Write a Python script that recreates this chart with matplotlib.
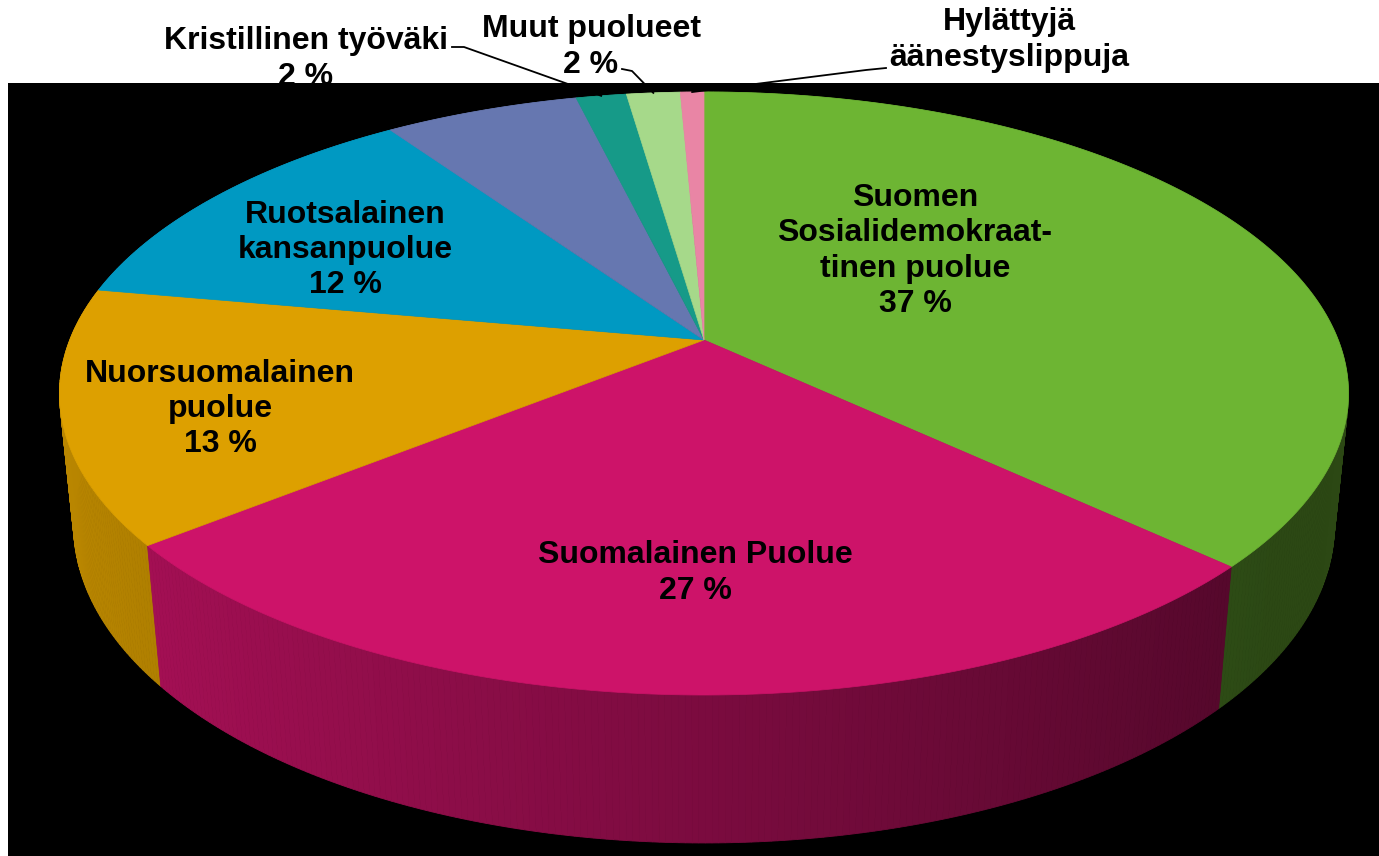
import numpy as np
import matplotlib
matplotlib.use("Agg")
from matplotlib import pyplot as plt
from matplotlib.patches import Polygon, Rectangle
from matplotlib.colors import to_rgb

# 1907 vote shares, clockwise from 12 o'clock
parties = ["Suomen\nSosialidemokraat-\ntinen puolue", "Suomalainen Puolue",
           "Nuorsuomalainen\npuolue", "Ruotsalainen\nkansanpuolue", "Maalaisliitto",
           "Kristillinen työväki", "Muut puolueet", "Hylättyjä\näänestyslippuja"]
shares = [37.0, 27.3, 13.6, 12.6, 5.8, 1.5, 1.6, 0.7]
pct_labels = ["37 %", "27 %", "13 %", "12 %", None, "2 %", "2 %", None]
colors = ["#6db533", "#cd1369", "#dda000", "#0099c2", "#6677b0", "#169a88",
          "#a6d98a", "#e985a5"]

# label centres (pixels) and leader line elbows
label_pos = [(915, 251), (695, 573), (220, 409), (345, 250), None,
             (306, 59), (591, 47), (1009, 40)]
leader_pts = {5: [(452, 47), (464, 47)], 6: [(622, 69), (632, 71)],
              7: [(886, 68), (866, 70)]}

# simple perspective camera
CX, CY = 704, 340
F, D = 3174.0, 5.004
phi = np.arcsin(0.4604)
H = 0.2355


def proj(x, y, z):
    depth = D + y * np.cos(phi) - z * np.sin(phi)
    sx = F * x / depth
    su = F * (y * np.sin(phi) + z * np.cos(phi)) / depth
    return CX + sx, CY - su


fig = plt.figure(figsize=(13.79, 8.56), dpi=100)
ax = fig.add_axes([0, 0, 1, 1])
ax.set_xlim(0, 1379)
ax.set_ylim(856, 0)
ax.axis("off")

ax.add_patch(Rectangle((8, 83), 1379 - 8, 856 - 83, facecolor="black",
                       edgecolor="none", zorder=1))

fracs = np.array(shares) / sum(shares)
edges = np.concatenate([[0], np.cumsum(fracs)]) * 2 * np.pi

# side walls
segs = []
for i in range(len(shares)):
    t = np.linspace(edges[i], edges[i + 1], max(3, int(np.degrees(edges[i + 1] - edges[i]) * 2)))
    for a, b in zip(t[:-1], t[1:]):
        m = 0.5 * (a + b)
        segs.append((np.cos(m), i, a, b, m))
segs.sort(key=lambda s: -s[0])
for _, i, a, b, m in segs:
    p1 = proj(np.sin(a), np.cos(a), 0)
    p2 = proj(np.sin(b), np.cos(b), 0)
    p3 = proj(np.sin(b), np.cos(b), -H)
    p4 = proj(np.sin(a), np.cos(a), -H)
    f = max(0.4, 0.6 - 0.25 * np.sin(m))
    c = tuple(min(1, v * f) for v in to_rgb(colors[i]))
    ax.add_patch(Polygon([p1, p2, p3, p4], closed=True, facecolor=c,
                         edgecolor=c, lw=0.6, zorder=2))

# top faces
for i in range(len(shares)):
    t = np.linspace(edges[i], edges[i + 1], 200)
    xs, ys = proj(np.sin(t), np.cos(t), 0)
    pts = [(CX, CY)] + list(zip(xs, ys))
    ax.add_patch(Polygon(pts, closed=True, facecolor=colors[i],
                         edgecolor=colors[i], lw=0.5, zorder=3))

# labels
font = dict(family="Liberation Sans", fontweight="bold", fontsize=23,
            color="black", ha="center", va="center", linespacing=1.22)
for i, pos in enumerate(label_pos):
    if pos is None:
        continue
    txt = parties[i] if pct_labels[i] is None else parties[i] + "\n" + pct_labels[i]
    z = 0.5 if i == 5 else 5
    ax.text(pos[0], pos[1], txt, zorder=z, **font)

for i, pts in leader_pts.items():
    m = 0.5 * (edges[i] + edges[i + 1])
    tip = proj(np.sin(m), np.cos(m), 0)
    line = pts + [tip]
    ax.plot([p[0] for p in line], [p[1] for p in line], color="black",
            lw=1.3, zorder=4)

fig.savefig("out.png", dpi=100, facecolor="white")
